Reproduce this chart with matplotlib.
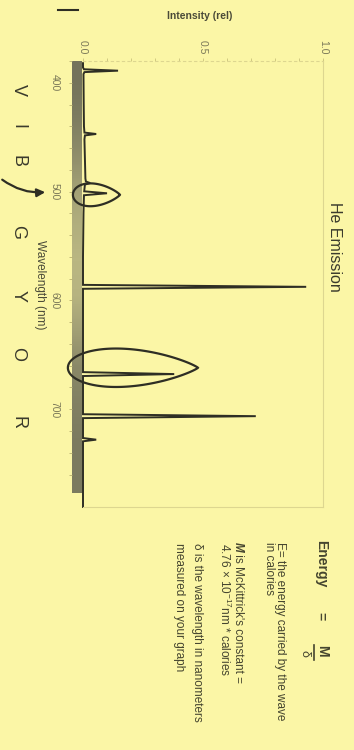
import numpy as np
import matplotlib.pyplot as plt
from matplotlib.patches import Polygon, FancyArrowPatch
from matplotlib.colors import LinearSegmentedColormap
from matplotlib.lines import Line2D

plt.rcParams['font.family'] = ['Liberation Sans', 'DejaVu Sans']

W, H = 354, 750
paper = '#fbf6a6'
ink = '#2e2e24'
faint = '#7a7858'

# He emission trace: wavelength (nm) and relative intensity
wavelength = [382, 386, 387.6, 388.9, 390.2, 392, 420, 440, 445.8, 447.1, 448.4, 452,
              470, 488, 490.8, 492.2, 493.6, 499.8, 501.6, 503.4, 520, 560,
              585.8, 587.6, 589.4, 640, 666.0, 667.8, 669.6, 690,
              704.7, 706.5, 708.3, 726.6, 728.1, 729.6, 760, 790]
intensity = [0.0, 0.0, 0.004, 0.146, 0.006, 0.002, 0.003, 0.004, 0.006, 0.055, 0.008, 0.006,
             0.008, 0.01, 0.012, 0.03, 0.008, 0.005, 0.10, 0.004, 0.002, 0.0,
             0.0, 0.93, 0.0, 0.0, 0.0, 0.38, 0.0, 0.0,
             0.0, 0.72, 0.0, 0.0, 0.055, 0.0, 0.0, 0.0]

# grey spectrum strip along the wavelength axis
strip_shade = [0.22, 0.28, 0.4, 0.55, 0.66, 0.72, 0.7, 0.55, 0.38, 0.32, 0.28, 0.28]

wl_ticks = [400, 500, 600, 700]
int_ticks = [0.0, 0.5, 1.0]
int_labels = ['0.0', '0.5', '1.0']
colour_letters = ['V', 'I', 'B', 'G', 'Y', 'O', 'R']
letter_y = [90, 127, 161, 232, 296, 354, 423]


def fx(x):
    return x / W


def fy(y):
    return 1 - y / H


fig = plt.figure(figsize=(W / 100, H / 100), dpi=100, facecolor=paper)

# strip with the wavelength ticks
sx = fig.add_axes([fx(72), fy(493), 10 / W, (493 - 61) / H])
cmap = LinearSegmentedColormap.from_list('strip', ['#55554a', '#e0dc98'])
sx.imshow(np.array(strip_shade)[:, None], cmap=cmap, vmin=0, vmax=1, aspect='auto',
          extent=[0, 1, 777, 380], interpolation='bilinear')
sx.set_xlim(0, 1)
sx.set_ylim(777, 380)
sx.set_xticks([])
sx.set_yticks(wl_ticks)
sx.set_yticklabels([str(v) for v in wl_ticks], rotation=-90, fontsize=7.5, color=faint,
                   va='center')
sx.set_yticks(np.arange(380, 777, 20), minor=True)
sx.tick_params(axis='y', which='both', length=2, width=0.6, color='#b8b070', pad=7)
for s in sx.spines.values():
    s.set_visible(False)

# main plot, turned on its side: wavelength runs down, intensity runs right
ax = fig.add_axes([fx(83), fy(507), 240 / W, (507 - 61) / H])
ax.set_zorder(3)
ax.set_facecolor('none')
ax.set_xlim(0, 1)
ax.set_ylim(790, 380)
ax.plot(intensity, wavelength, color=ink, lw=1.4, solid_joinstyle='miter', clip_on=False)
ax.xaxis.tick_top()
ax.set_xticks(int_ticks)
ax.set_xticklabels(int_labels, rotation=-90, fontsize=7.5, color=faint)
ax.set_xticks(np.arange(0, 1.01, 0.1), minor=True)
ax.tick_params(axis='x', which='both', length=2, width=0.6, color='#c9c27a', pad=3)
ax.set_yticks([])
ax.spines['left'].set_visible(False)
ax.spines['top'].set_linestyle((0, (2, 3)))
for s in ['top', 'right', 'bottom']:
    ax.spines[s].set_color('#ddd690')
    ax.spines[s].set_linewidth(0.8)

# axis titles and heading
fig.text(fx(200), fy(16), 'Intensity (rel)', fontsize=7.5, fontweight='bold', color='#4a4a38',
         ha='center', va='center')
fig.text(fx(40), fy(285), 'Wavelength (nm)', fontsize=8.5, color='#4a4a38', rotation=-90,
         ha='center', va='center')
fig.text(fx(335), fy(247), 'He Emission', fontsize=11.5, color='#3a3a2c', rotation=-90,
         ha='center', va='center')
fig.add_artist(Line2D([fx(58), fx(78)], [fy(10), fy(10)], color=ink, lw=1.5))

for ch, y in zip(colour_letters, letter_y):
    fig.text(fx(18), fy(y), ch, fontsize=13, color='#3a3a2c', rotation=-90,
             ha='center', va='center')

# hand-drawn arrow and rings
fig.add_artist(FancyArrowPatch((fx(0), fy(178)), (fx(48), fy(192)), transform=fig.transFigure,
                               arrowstyle='-|>', mutation_scale=12, lw=1.6, color=ink,
                               connectionstyle='arc3,rad=0.2'))


def egg(cx, cy, a, b):
    t = np.linspace(0, 2 * np.pi, 200)
    xs = cx + a * np.cos(t)
    ys = cy + b / 0.86 * np.sin(t) * ((1 - np.cos(t)) / 2) ** 0.35
    return np.column_stack([xs, ys])


for cx, cy, a, b in [(0.056, 503, 0.098, 11), (0.208, 662, 0.271, 18.5)]:
    ax.add_patch(Polygon(egg(cx, cy, a, b), closed=True, fill=False, ec=ink, lw=1.6,
                         clip_on=False))

# notes on the right
note = '#45452f'


def note_text(x, y, s, **kw):
    kw.setdefault('fontsize', 8.5)
    fig.text(fx(x), fy(y), s, color=note, rotation=-90, rotation_mode='anchor',
             ha='left', va='center', **kw)


note_text(321, 540, 'Energy', fontsize=10, fontweight='bold')
note_text(321, 612, '=', fontsize=10, fontweight='bold')
note_text(322, 645, 'M', fontsize=10, fontweight='bold')
fig.add_artist(Line2D([fx(314), fx(314)], [fy(645), fy(660)], color=note, lw=1.2))
note_text(305, 650, 'δ', fontsize=9)
note_text(280, 542, 'E= the energy carried by the wave')
note_text(269, 542, 'in calories')
note_text(238, 542, 'M', fontweight='bold', fontstyle='italic')
note_text(238, 551, ' is McKittrick\'s constant =')
note_text(225, 543, r'4.76 × $\mathregular{10^{-17}}$nm * calories')
note_text(197, 543, 'δ is the wavelength in nanometers')
note_text(179, 543, 'measured on your graph')

fig.savefig('out.png', dpi=100, facecolor=paper)
